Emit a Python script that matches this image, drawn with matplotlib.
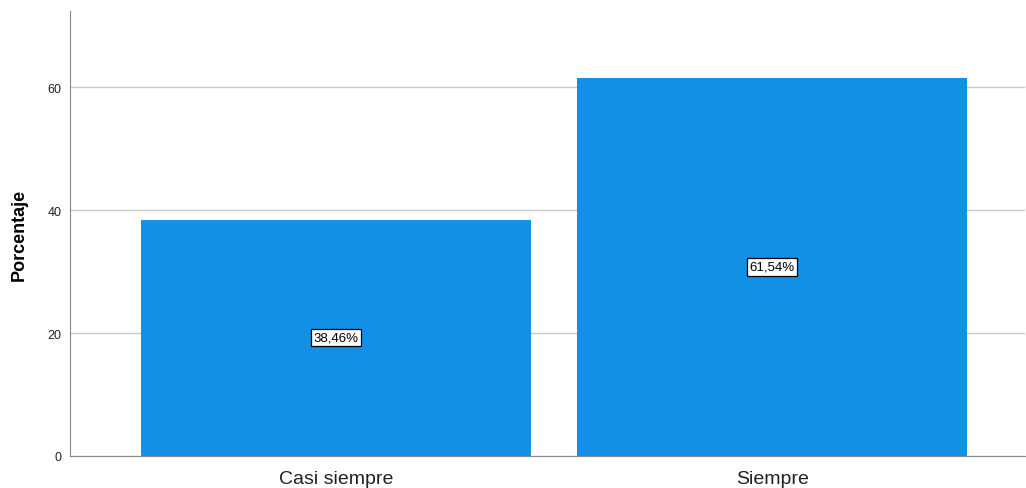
import numpy as np
import matplotlib
matplotlib.use('Agg')
import matplotlib.pyplot as plt

plt.rcParams['font.family'] = ['Liberation Sans', 'DejaVu Sans']

## data
categorias = ['Casi siempre', 'Siempre']
porcentajes = [38.46, 61.54]
etiquetas = ['38,46%', '61,54%']
yticks = [0, 20, 40, 60]

fig = plt.figure(figsize=(10.26, 4.89), dpi=100)
ax = fig.add_axes([70/1026, 32/489, 955/1026, 445/489])

x = np.arange(len(categorias))
ax.bar(x, porcentajes, width=0.896, color='#1290e6', zorder=3)

## labels in the middle of each bar
for xi, val, txt in zip(x, porcentajes, etiquetas):
    ax.text(xi, val/2, txt, ha='center', va='center', fontsize=9.5, zorder=4,
            bbox=dict(boxstyle='square,pad=0.2', fc='white', ec='black', lw=0.9))

ax.set_xlim(-0.61, 1.58)
ax.set_ylim(0, 72.4)
ax.set_yticks(yticks)
ax.set_xticks(x)
ax.set_xticklabels(categorias, fontsize=14, color='#222222')
ax.tick_params(axis='y', labelsize=9, length=0, pad=6, colors='#222222')
ax.tick_params(axis='x', length=0, pad=10)
ax.yaxis.grid(True, color='#c8c8c8', lw=1, zorder=0)

for s in ['top', 'right']:
    ax.spines[s].set_visible(False)
ax.spines['left'].set_color('#888888')
ax.spines['bottom'].set_color('#888888')
ax.spines['left'].set_zorder(5)

ax.set_ylabel('Porcentaje', fontsize=13, fontweight='bold', labelpad=14)

fig.savefig('out.png', dpi=100)
